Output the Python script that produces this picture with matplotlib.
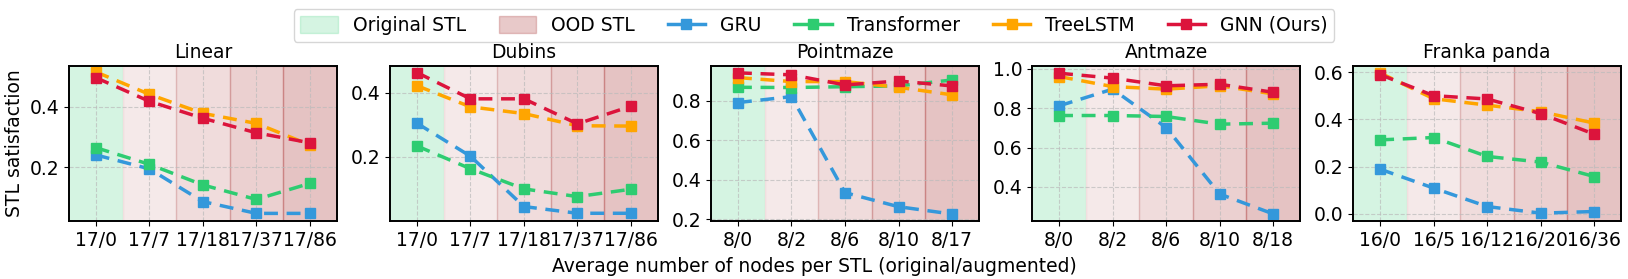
import matplotlib
matplotlib.use("Agg")
import matplotlib.pyplot as plt
import numpy as np
from matplotlib.patches import Patch
from matplotlib.lines import Line2D

envs = ["Linear", "Dubins", "Pointmaze", "Antmaze", "Franka panda"]
xlabels = [
    ["17/0", "17/7", "17/18", "17/37", "17/86"],
    ["17/0", "17/7", "17/18", "17/37", "17/86"],
    ["8/0", "8/2", "8/6", "8/10", "8/17"],
    ["8/0", "8/2", "8/6", "8/10", "8/18"],
    ["16/0", "16/5", "16/12", "16/20", "16/36"],
]

gru = [
    [0.241, 0.195, 0.087, 0.048, 0.048],
    [0.305, 0.202, 0.045, 0.024, 0.024],
    [0.790, 0.820, 0.335, 0.264, 0.227],
    [0.812, 0.897, 0.702, 0.364, 0.263],
    [0.189, 0.109, 0.031, 0.003, 0.010],
]
transformer = [
    [0.265, 0.210, 0.142, 0.094, 0.147],
    [0.234, 0.163, 0.100, 0.076, 0.099],
    [0.867, 0.866, 0.870, 0.874, 0.904],
    [0.763, 0.763, 0.758, 0.719, 0.724],
    [0.313, 0.323, 0.243, 0.219, 0.158],
]
treelstm = [
    [0.515, 0.441, 0.378, 0.345, 0.274],
    [0.422, 0.356, 0.335, 0.297, 0.296],
    [0.916, 0.896, 0.896, 0.867, 0.829],
    [0.961, 0.910, 0.897, 0.914, 0.873],
    [0.596, 0.487, 0.460, 0.432, 0.384],
]
gnn = [
    [0.496, 0.418, 0.362, 0.314, 0.281],
    [0.463, 0.381, 0.381, 0.303, 0.358],
    [0.940, 0.930, 0.879, 0.899, 0.874],
    [0.978, 0.953, 0.914, 0.922, 0.881],
    [0.589, 0.500, 0.486, 0.424, 0.337],
]

series = [("GRU", gru, "#3498db"), ("Transformer", transformer, "#2ecc71"),
          ("TreeLSTM", treelstm, "#ffa500"), ("GNN (Ours)", gnn, "#dc143c")]

ylims = [(0.023, 0.534), (0.0, 0.483), (0.192, 0.974), (0.227, 1.014), (-0.03, 0.625)]
yticks = [[0.2, 0.4], [0.2, 0.4], [0.2, 0.4, 0.6, 0.8], [0.4, 0.6, 0.8, 1.0], [0.0, 0.2, 0.4, 0.6]]

plt.rcParams["font.size"] = 13.5
fig, axes = plt.subplots(1, 5, figsize=(16.28, 2.79), dpi=100)
fig.subplots_adjust(left=0.0424, right=0.9957, bottom=0.208, top=0.763, wspace=0.2)

ood_alphas = [0.10, 0.16, 0.22, 0.28]
for i, ax in enumerate(axes):
    x = np.arange(len(xlabels[i]))
    ax.axvspan(-0.5, 0.5, color="#2ecc71", alpha=0.2, lw=0)
    for k, a in enumerate(ood_alphas):
        ax.axvspan(0.5 + k, 1.5 + k, facecolor="#a52a2a", alpha=a, edgecolor="#a52a2a", lw=1)
    for name, vals, col in series:
        ax.plot(x, vals[i], "--", marker="s", color=col, lw=2.5, ms=6.5, dashes=(4, 2.5))
    ax.set_xlim(-0.5, 4.5)
    ax.set_ylim(*ylims[i])
    ax.set_yticks(yticks[i])
    ax.set_xticks(x)
    ax.set_xticklabels(xlabels[i])
    ax.set_title(envs[i], fontsize=13.5)
    ax.grid(True, ls="--", color="#bbbbbb", alpha=0.7)
    for s in ax.spines.values():
        s.set_linewidth(1.4)

axes[0].set_ylabel("STL satisfaction")
fig.text(0.5, 0.012, "Average number of nodes per STL (original/augmented)", ha="center", va="bottom")

handles = [Patch(facecolor="#2ecc71", alpha=0.2, edgecolor="#2ecc71", label="Original STL"),
           Patch(facecolor="#a52a2a", alpha=0.25, edgecolor="#a52a2a", label="OOD STL")]
for name, vals, col in series:
    handles.append(Line2D([0], [0], ls="-", marker="s", color=col, lw=2.5, ms=6.5, label=name))
fig.legend(handles=handles, loc="upper center", ncol=6, bbox_to_anchor=(0.5, 1.0),
           handlelength=2.0, handleheight=1.0, columnspacing=1.75, borderpad=0.35)

fig.savefig("out.png")
